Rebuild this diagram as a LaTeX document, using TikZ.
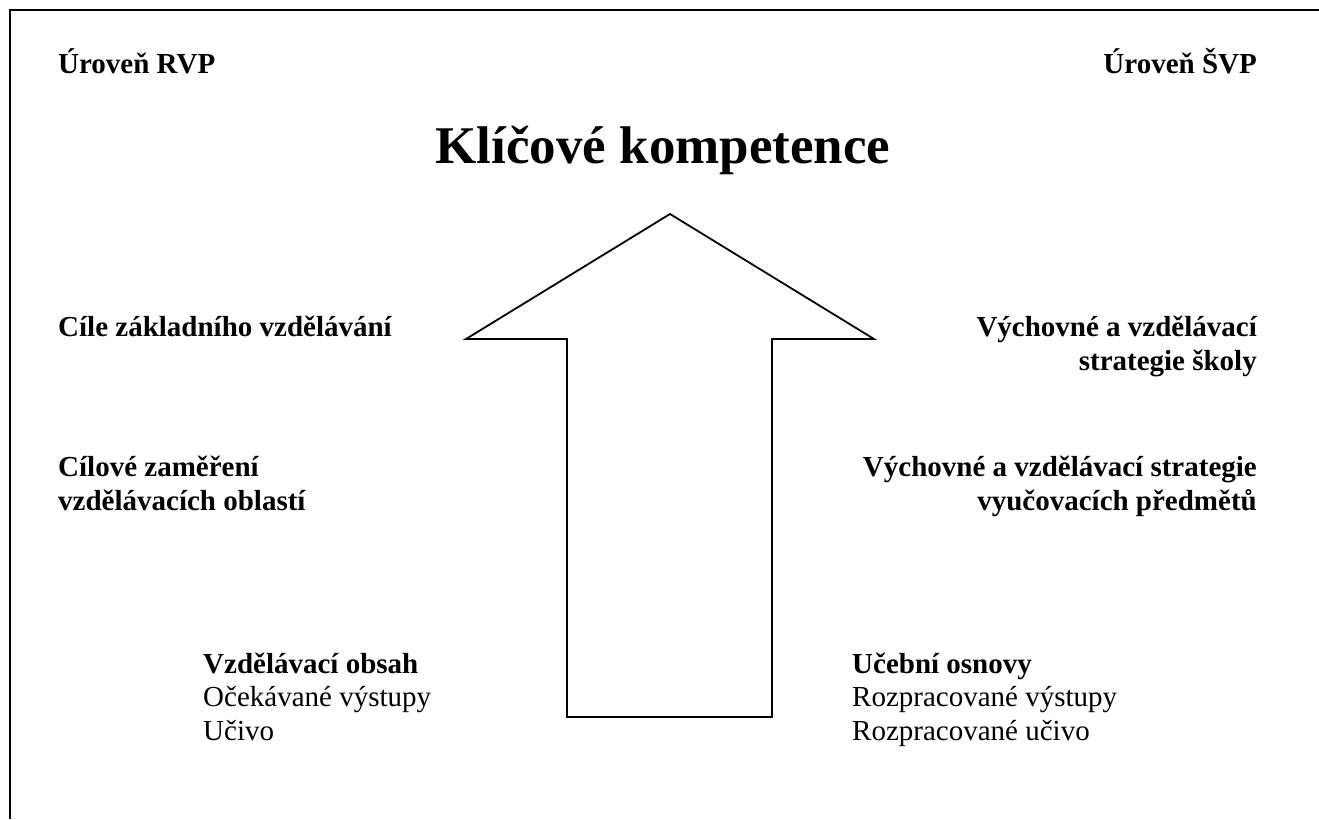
\documentclass[tikz,border=0pt]{standalone}
\usepackage{fontspec}
\setmainfont{Liberation Serif}
\usetikzlibrary{positioning}

\begin{document}
\begin{tikzpicture}[
    x=1pt, y=-1pt,
    % --- Global Styles ---
    base/.style={inner sep=0pt, font=\fontsize{29}{33.5}\selectfont},
    heading/.style={base, font=\fontsize{29}{33.5}\selectfont\bfseries},
    left col/.style={heading, anchor=base west, align=left},
    right col/.style={heading, anchor=base east, align=right},
    content/.style={base, anchor=base west, align=left},
    title/.style={inner sep=0pt, anchor=base, font=\fontsize{53}{60}\selectfont\bfseries},
    outline/.style={line width=1.8pt, line join=miter}
]
    \useasboundingbox (0,0) rectangle (1319,819);

    % --- Frame ---
    \draw[outline] (10,819) -- (10,10) -- (1319,10);

    % --- Levels ---
    \node[left col] (rvp) at (58,73) {Úroveň RVP};
    \node[right col] (svp) at (1257,73) {Úroveň ŠVP};
    \node[title] (kk) at (663,163) {Klíčové kompetence};

    % --- Big arrow ---
    \coordinate (tip) at (670,214);
    \draw[outline] (567,717) -- (567,339) -- (466,339) -- (tip)
        -- (874,339) -- (772,339) -- (772,717) -- cycle;

    % --- RVP side (anchored at the last line) ---
    \node[left col] (cile) at (58,336) {Cíle základního vzdělávání};
    \node[left col] (zamereni) at (58,510) {Cílové zaměření\\vzdělávacích oblastí};
    \node[content] (obsah) at (203,740) {\textbf{Vzdělávací obsah}\\Očekávané výstupy\\Učivo};

    % --- ŠVP side ---
    \node[right col] (skola) at (1257,370) {Výchovné a vzdělávací\\strategie školy};
    \node[right col] (predmety) at (1257,510) {Výchovné a vzdělávací strategie\\vyučovacích předmětů};
    \node[content] (osnovy) at (852,740) {\textbf{Učební osnovy}\\Rozpracované výstupy\\Rozpracované učivo};

\end{tikzpicture}
\end{document}
